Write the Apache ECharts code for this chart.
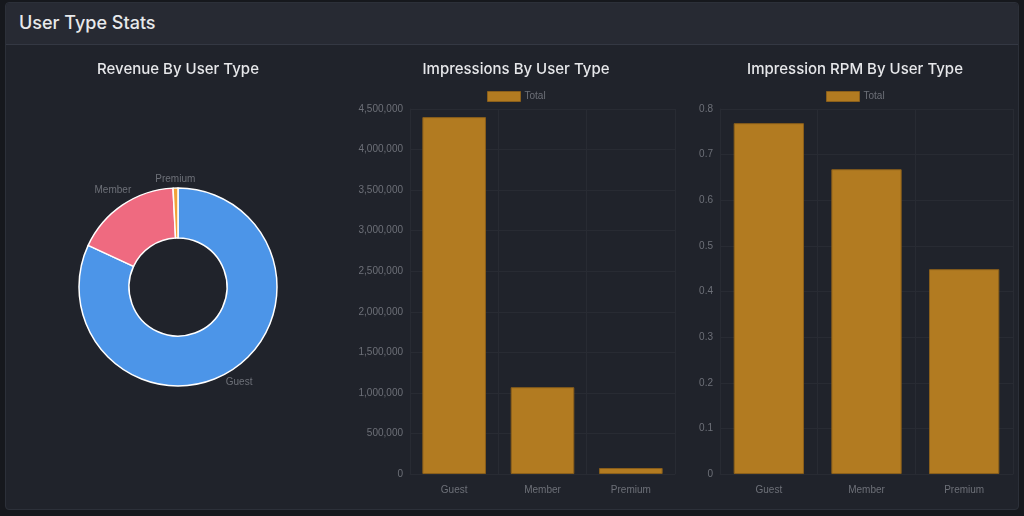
<!DOCTYPE html>
<html>
<head>
<meta charset="utf-8">
<script src="https://cdn.jsdelivr.net/npm/echarts@6/dist/echarts.min.js"></script>
<style>
    html, body { margin: 0; padding: 0; width: 1024px; height: 516px; background: #16181d; overflow: hidden; }
    .card { position: absolute; left: 5px; top: 2px; width: 1012px; height: 506px; background: #20232b; border: 1px solid #2c3039; border-radius: 4px; }
    .card-head { height: 41px; background: #272a33; border-bottom: 1px solid #343843; border-radius: 4px 4px 0 0; }
    .card-head span { position: absolute; left: 13px; top: 9px; color: #e8e9eb; font: 500 18px Inter, "Liberation Sans", sans-serif; }
    #main { position: absolute; left: 0; top: 0; width: 1024px; height: 516px; }
</style>
</head>
<body>
<div class="card"><div class="card-head"><span>User Type Stats</span></div></div>
<div id="main"></div>
<script>
    //---数据定义区----------------------------------
    var userTypes = ['Guest', 'Member', 'Premium'];
    var revenueValues = [3384, 715, 33];
    var impressionValues = [4400000, 1070000, 74000];
    var rpmValues = [0.769, 0.668, 0.449];
    var legendName = 'Total';

    //---常量定义区----------------------------------
    var PIE_COLORS = ['#4c95e8', '#ef6a80', '#f0a23a'];
    var BAR_COLOR = '#b27b21';
    var LABEL_COLOR = '#6d7078';
    var GRID_COLOR = '#282b33';
    var TITLE_FONT = 'Inter, "Liberation Sans", sans-serif';
    var LABEL_FONT = '"Liberation Sans", Arial, sans-serif';
    var PIE_CENTER = [178, 287];
    var PIE_RADIUS = [49, 99];

    //----------------------------------------------
    function makeTitle(text, centerX) {
        return {
            text: text,
            left: centerX,
            top: 62,
            padding: 0,
            textAlign: 'center',
            textStyle: { color: '#e6e7ea', fontSize: 15, fontWeight: 500, fontFamily: TITLE_FONT }
        };
    }

    function makeLegend(idx, left) {
        return {
            data: [legendName + idx],
            left: left,
            top: 91,
            padding: 0,
            icon: 'rect',
            itemWidth: 33,
            itemHeight: 10,
            itemGap: 5,
            formatter: function () { return legendName; },
            textStyle: { color: LABEL_COLOR, fontSize: 10, fontFamily: LABEL_FONT, padding: [0, 0, 0, -1] },
            itemStyle: { borderWidth: 1, borderColor: '#8a5f1b' }
        };
    }

    function makeXAxis(gridIndex) {
        return {
            type: 'category',
            gridIndex: gridIndex,
            data: userTypes,
            axisTick: { show: false },
            axisLine: { show: true, lineStyle: { color: GRID_COLOR } },
            splitLine: { show: true, lineStyle: { color: GRID_COLOR } },
            axisLabel: { color: LABEL_COLOR, fontSize: 10, fontFamily: LABEL_FONT, margin: 11 }
        };
    }

    function makeYAxis(gridIndex, max, interval, fmt) {
        return {
            type: 'value',
            gridIndex: gridIndex,
            min: 0,
            max: max,
            interval: interval,
            axisLine: { show: true, lineStyle: { color: GRID_COLOR } },
            axisTick: { show: false },
            splitLine: { show: true, lineStyle: { color: GRID_COLOR } },
            axisLabel: { color: LABEL_COLOR, fontSize: 10, fontFamily: LABEL_FONT, margin: 7, formatter: fmt }
        };
    }

    function makeBar(idx, data) {
        return {
            name: legendName + (idx + 1),
            type: 'bar',
            xAxisIndex: idx,
            yAxisIndex: idx,
            data: data,
            barCategoryGap: '28%',
            itemStyle: { color: BAR_COLOR, borderColor: '#8a5f1b', borderWidth: 1 }
        };
    }

    // 饼图标签: 以扇区中线方向居中放在外圈外侧
    function pieLabelLayout(p) {
        var total = 0, before = 0;
        revenueValues.forEach(function (v, i) {
            total += v;
            if (i < p.dataIndex) before += v;
        });
        var a = (before + revenueValues[p.dataIndex] / 2) / total * Math.PI * 2;
        var s = Math.sin(a), c = Math.cos(a);
        var d = PIE_RADIUS[1] + 3 + Math.abs(s) * p.labelRect.width / 2 + Math.abs(c) * p.labelRect.height / 2;
        return {
            x: PIE_CENTER[0] + d * s,
            y: PIE_CENTER[1] - d * c,
            align: 'center',
            verticalAlign: 'middle'
        };
    }

    var numFmt = function (v) { return v.toLocaleString('en-US'); };

    var chart = echarts.init(document.getElementById('main'), null, { renderer: 'canvas' });
    chart.setOption({
        backgroundColor: 'transparent',
        animation: false,
        title: [
            makeTitle('Revenue By User Type', 178),
            makeTitle('Impressions By User Type', 516),
            makeTitle('Impression RPM By User Type', 855)
        ],
        legend: [makeLegend(1, 487), makeLegend(2, 826)],
        grid: [
            { left: 410, right: 349, top: 109, bottom: 42 },
            { left: 720, right: 11, top: 109, bottom: 42 }
        ],
        xAxis: [makeXAxis(0), makeXAxis(1)],
        yAxis: [
            makeYAxis(0, 4500000, 500000, numFmt),
            makeYAxis(1, 0.8, 0.1, function (v) { return String(Math.round(v * 10) / 10); })
        ],
        series: [
            {
                type: 'pie',
                center: PIE_CENTER,
                radius: PIE_RADIUS,
                startAngle: 90,
                clockwise: true,
                data: userTypes.map(function (name, i) {
                    return { name: name, value: revenueValues[i], itemStyle: { color: PIE_COLORS[i] } };
                }),
                itemStyle: { borderColor: '#ffffff', borderWidth: 1.5 },
                label: { show: true, position: 'outside', color: LABEL_COLOR, fontSize: 10, fontFamily: LABEL_FONT },
                labelLine: { show: false, length: 8, length2: 0 },
                labelLayout: pieLabelLayout,
                emphasis: { disabled: true }
            },
            makeBar(0, impressionValues),
            makeBar(1, rpmValues)
        ]
    });
</script>
</body>
</html>
